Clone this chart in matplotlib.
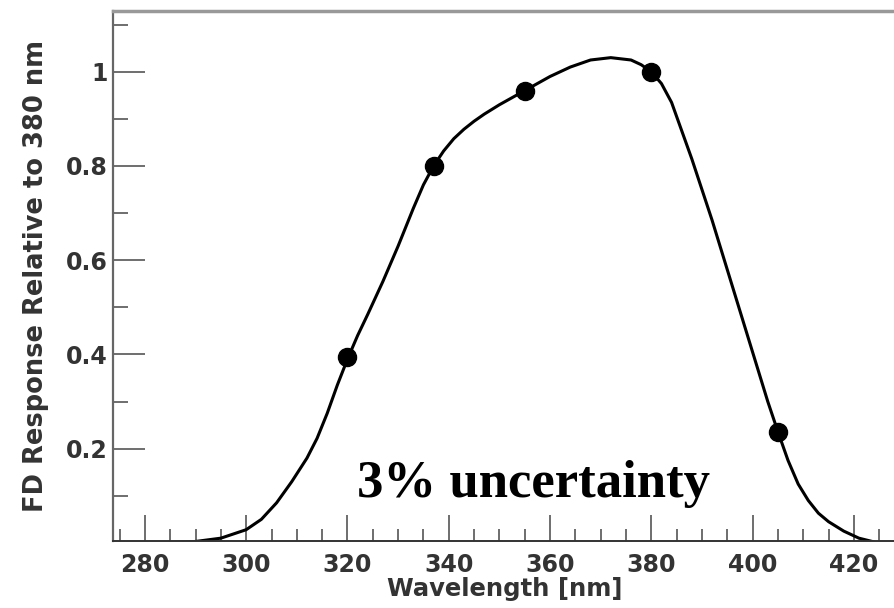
import numpy as np
import matplotlib
matplotlib.use("Agg")
import matplotlib.pyplot as plt
from matplotlib.ticker import MultipleLocator

# measured points (wavelength nm, response relative to 380 nm)
meas_wl = [320, 337, 355, 380, 405]
meas_resp = [0.395, 0.80, 0.96, 1.00, 0.236]

# response curve
curve_wl = [283, 290, 295, 300, 303, 306, 309, 312, 314, 316, 318, 320, 322,
            324, 327, 330, 333, 335, 337, 339, 341, 343, 345, 347, 350, 355,
            360, 364, 368, 372, 376, 378, 380, 382, 384, 386, 388, 390, 392,
            395, 398, 401, 403, 405, 407, 409, 411, 413, 415, 418, 421, 424]
curve_resp = [0.0, 0.003, 0.01, 0.028, 0.05, 0.085, 0.13, 0.18, 0.222, 0.275,
              0.335, 0.39, 0.44, 0.485, 0.555, 0.63, 0.71, 0.76, 0.80, 0.832,
              0.858, 0.878, 0.895, 0.91, 0.93, 0.96, 0.99, 1.01, 1.025, 1.03,
              1.025, 1.015, 1.0, 0.975, 0.935, 0.875, 0.815, 0.75, 0.685,
              0.58, 0.475, 0.37, 0.30, 0.236, 0.175, 0.125, 0.09, 0.063,
              0.045, 0.025, 0.01, 0.002]

x_major = np.arange(280, 421, 20)
y_major = [0.2, 0.4, 0.6, 0.8, 1.0]
y_labels = ["0.2", "0.4", "0.6", "0.8", "1"]

fig = plt.figure(figsize=(8.94, 6.08), dpi=100)
ax = fig.add_axes([0.1264, 0.1102, 0.942, 0.8717])

ax.plot(curve_wl, curve_resp, color="black", lw=2.2, solid_capstyle="round",
        solid_joinstyle="round")
ax.plot(meas_wl, meas_resp, "o", color="black", markersize=13)

ax.set_xlim(273.7, 440)
ax.set_ylim(0.004, 1.129)

ax.set_xticks(x_major)
ax.xaxis.set_minor_locator(MultipleLocator(5))
ax.set_yticks(y_major)
ax.set_yticklabels(y_labels)
ax.yaxis.set_minor_locator(MultipleLocator(0.1))

tick_col = "#333333"
ax.tick_params(axis="x", which="major", direction="in", length=19, width=1.2,
               color="#555555", pad=9, labelsize=17, labelcolor=tick_col)
ax.tick_params(axis="x", which="minor", direction="in", length=8.5, width=1.2,
               color="#555555")
ax.tick_params(axis="y", which="major", direction="in", length=23, width=1.2,
               color="#555555", pad=4, labelsize=17, labelcolor=tick_col)
ax.tick_params(axis="y", which="minor", direction="in", length=11, width=1.2,
               color="#555555")

ax.spines["right"].set_visible(False)
ax.spines["top"].set_color("#999999")
ax.spines["top"].set_linewidth(2.5)
ax.spines["left"].set_color("#666666")
ax.spines["left"].set_linewidth(1.6)
ax.spines["bottom"].set_color("#333333")
ax.spines["bottom"].set_linewidth(1.4)

for lab in ax.get_xticklabels() + ax.get_yticklabels():
    lab.set_fontweight("bold")

ax.set_xlabel("Wavelength [nm]", fontsize=17.5, fontweight="bold",
              color=tick_col)
ax.xaxis.set_label_coords(0.4655, -0.068)
ax.set_ylabel("FD Response Relative to 380 nm", fontsize=18.5,
              fontweight="bold", color=tick_col, labelpad=12)

ax.text(321.9, 0.098, "3% uncertainty", family="Liberation Serif",
        fontweight="bold", fontsize=38, va="baseline", ha="left")

fig.savefig("out.png", dpi=100)
